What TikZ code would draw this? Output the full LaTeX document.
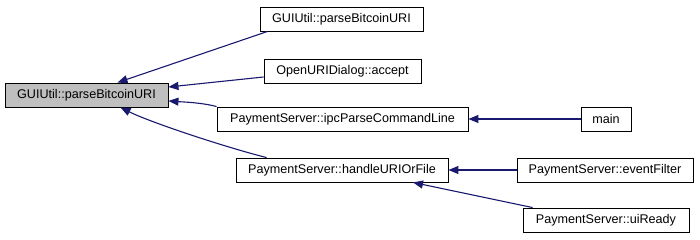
\documentclass[tikz,border=0pt]{standalone}
\usepackage{fontspec}
\setmainfont{Liberation Sans}
\usetikzlibrary{arrows.meta}
\definecolor{edgeblue}{RGB}{25,25,112}
\definecolor{focusgrey}{RGB}{191,191,191}
\begin{document}
\begin{tikzpicture}[x=1pt,y=-1pt,
  fnbox/.style={draw=black,line width=0.9pt,fill=white,minimum height=24pt,
    inner sep=0pt,font=\fontsize{12.6pt}{14pt}\selectfont},
  focusbox/.style={fnbox,fill=focusgrey},
  calledge/.style={draw=edgeblue,line width=1.1pt,
    -{Triangle[length=10pt,width=8pt,fill=edgeblue]}}]
\useasboundingbox[fill=white] (0,0) rectangle (700,240);

% call graph nodes
\node[focusbox,minimum width=163pt] (pb)   at (86.5,95) {GUIUtil::parseBitcoinURI};
\node[fnbox,minimum width=163pt]    (gu)   at (341.5,19) {GUIUtil::parseBitcoinURI};
\node[fnbox,minimum width=157pt]    (ou)   at (342.5,71) {OpenURIDialog::accept};
\node[fnbox,minimum width=251pt]    (ipc)  at (342.5,119) {PaymentServer::ipcParseCommandLine};
\node[fnbox,minimum width=50pt]     (mn)   at (606,119) {main};
\node[fnbox,minimum width=212pt]    (hf)   at (342,170) {PaymentServer::handleURIOrFile};
\node[fnbox,minimum width=176pt]    (ef)   at (605,170) {PaymentServer::eventFilter};
\node[fnbox,minimum width=166pt]    (ui)   at (606,220) {PaymentServer::uiReady};

% callers point back to callees
\draw[calledge] ([xshift=8pt]gu.south west) -- ([xshift=31pt]pb.north);
\draw[calledge] ([yshift=-6pt]ou.west) -- ([yshift=8pt]pb.east);
\draw[calledge] (ipc.north west) .. controls +(-15,-4) and +(15,1) .. ([yshift=-6pt]pb.east);
\draw[calledge] ([xshift=31pt]hf.north west) .. controls +(-40,-10) and +(30,15) .. ([xshift=34pt]pb.south);
\draw[calledge] (mn.west) -- (ipc.east);
\draw[calledge] (ef.west) -- (hf.east);
\draw[calledge] ([xshift=10pt]ui.north west) -- ([xshift=71pt]hf.south);
\end{tikzpicture}
\end{document}
